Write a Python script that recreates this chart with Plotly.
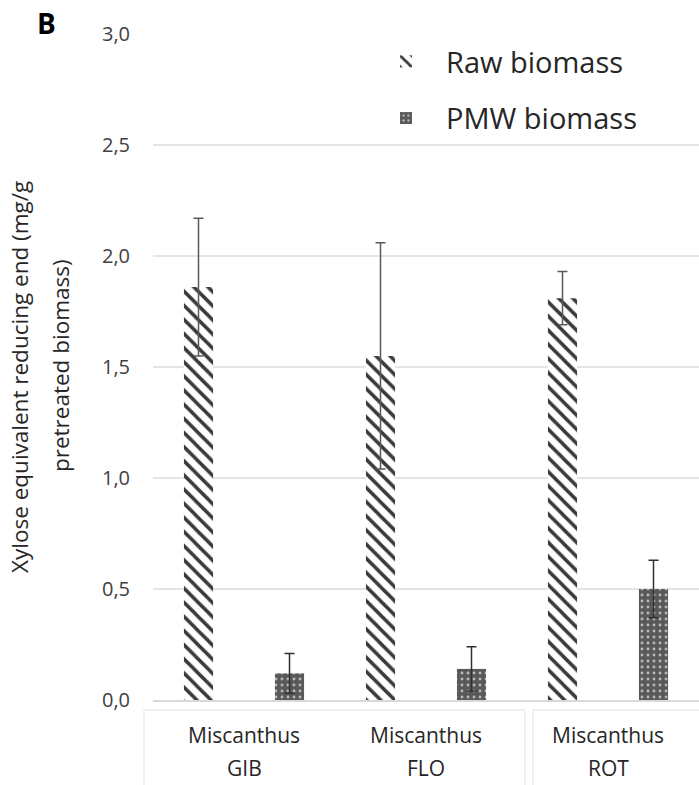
import plotly.graph_objects as go

categories = ["GIB", "FLO", "ROT"]
cat_prefix = "Miscanthus"
raw_values = [1.86, 1.55, 1.81]
raw_errors = [0.31, 0.51, 0.12]
pmw_values = [0.12, 0.14, 0.50]
pmw_errors = [0.09, 0.10, 0.13]
y_ticks = [0.0, 0.5, 1.0, 1.5, 2.0, 2.5, 3.0]

FONT = "Open Sans"
TXT = "#262626"

fig = go.Figure()
fig.add_trace(go.Bar(
    name="Raw biomass", x=categories, y=raw_values,
    marker=dict(color="white", line=dict(width=0),
                pattern=dict(shape="\\", fgcolor="#3a3a3a", bgcolor="white",
                             size=10, solidity=0.35, fillmode="replace")),
    error_y=dict(type="data", array=raw_errors, color="#595959", thickness=1.5, width=5),
    legendgroup="a",
))
fig.add_trace(go.Bar(
    name="PMW biomass", x=categories, y=pmw_values,
    marker=dict(color="#595959", line=dict(width=0),
                pattern=dict(shape=".", fgcolor="#b8b8b8", bgcolor="#595959",
                             size=6, solidity=0.18, fillmode="replace")),
    error_y=dict(type="data", array=pmw_errors, color="#303030", thickness=1.5, width=5),
    legendgroup="b",
))

H = 666.0
W = 546.0
def py(p):
    return (700 - p) / H
def px(p):
    return (p - 153) / W

annotations = []
for c in categories:
    annotations.append(dict(x=c, xref="x", y=py(735), yref="paper", text=cat_prefix,
                            showarrow=False, font=dict(family=FONT, size=21, color=TXT),
                            xanchor="center", yanchor="middle"))
    annotations.append(dict(x=c, xref="x", y=py(768), yref="paper", text=c,
                            showarrow=False, font=dict(family=FONT, size=21, color=TXT),
                            xanchor="center", yanchor="middle"))
annotations.append(dict(x=px(19), xref="paper", y=py(377), yref="paper",
                        text="Xylose equivalent reducing end (mg/g", textangle=-90,
                        showarrow=False, font=dict(family=FONT, size=22.5, color=TXT),
                        xanchor="center", yanchor="middle"))
annotations.append(dict(x=px(60), xref="paper", y=py(366), yref="paper",
                        text="pretreated biomass)", textangle=-90,
                        showarrow=False, font=dict(family=FONT, size=22.5, color=TXT),
                        xanchor="center", yanchor="middle"))
annotations.append(dict(x=px(46), xref="paper", y=py(23), yref="paper",
                        text="<b>B</b>", showarrow=False,
                        font=dict(family=FONT, size=28, color="black"),
                        xanchor="center", yanchor="middle"))

line_col = "#ebebeb"
shapes = [
    dict(type="line", xref="paper", yref="paper", x0=px(144), x1=px(525), y0=py(710), y1=py(710),
         line=dict(color=line_col, width=1.5)),
    dict(type="line", xref="paper", yref="paper", x0=px(533), x1=px(699), y0=py(710), y1=py(710),
         line=dict(color=line_col, width=1.5)),
    dict(type="line", xref="paper", yref="paper", x0=px(144), x1=px(144), y0=py(710), y1=py(785),
         line=dict(color=line_col, width=1.5)),
    dict(type="line", xref="paper", yref="paper", x0=px(525), x1=px(525), y0=py(710), y1=py(785),
         line=dict(color=line_col, width=1.5)),
    dict(type="line", xref="paper", yref="paper", x0=px(533), x1=px(533), y0=py(710), y1=py(785),
         line=dict(color=line_col, width=1.5)),
]

fig.update_layout(
    width=699, height=785,
    margin=dict(l=153, r=0, t=34, b=85),
    paper_bgcolor="white", plot_bgcolor="white",
    barmode="group", bargap=0.0, bargroupgap=0.68,
    separators=",.",
    font=dict(family=FONT, color=TXT),
    showlegend=True,
    legend=dict(x=px(366), y=py(36), xanchor="left", yanchor="top",
                bgcolor="white", font=dict(family=FONT, size=29, color=TXT),
                itemwidth=70, traceorder="grouped", tracegroupgap=16),
    annotations=annotations,
    shapes=shapes,
    xaxis=dict(showticklabels=False, showgrid=False, showline=True,
               linecolor="#d9d9d9", linewidth=2, ticks="", zeroline=False),
    yaxis=dict(range=[0, 3.0], tickvals=y_ticks, tickformat=".1f",
               showgrid=True, gridcolor="#e4e4e4", gridwidth=1.5,
               zeroline=False, showline=False, ticks="",
               ticklabelstandoff=22,
               tickfont=dict(family=FONT, size=20, color="#404040")),
)

fig.write_html("out.html")
